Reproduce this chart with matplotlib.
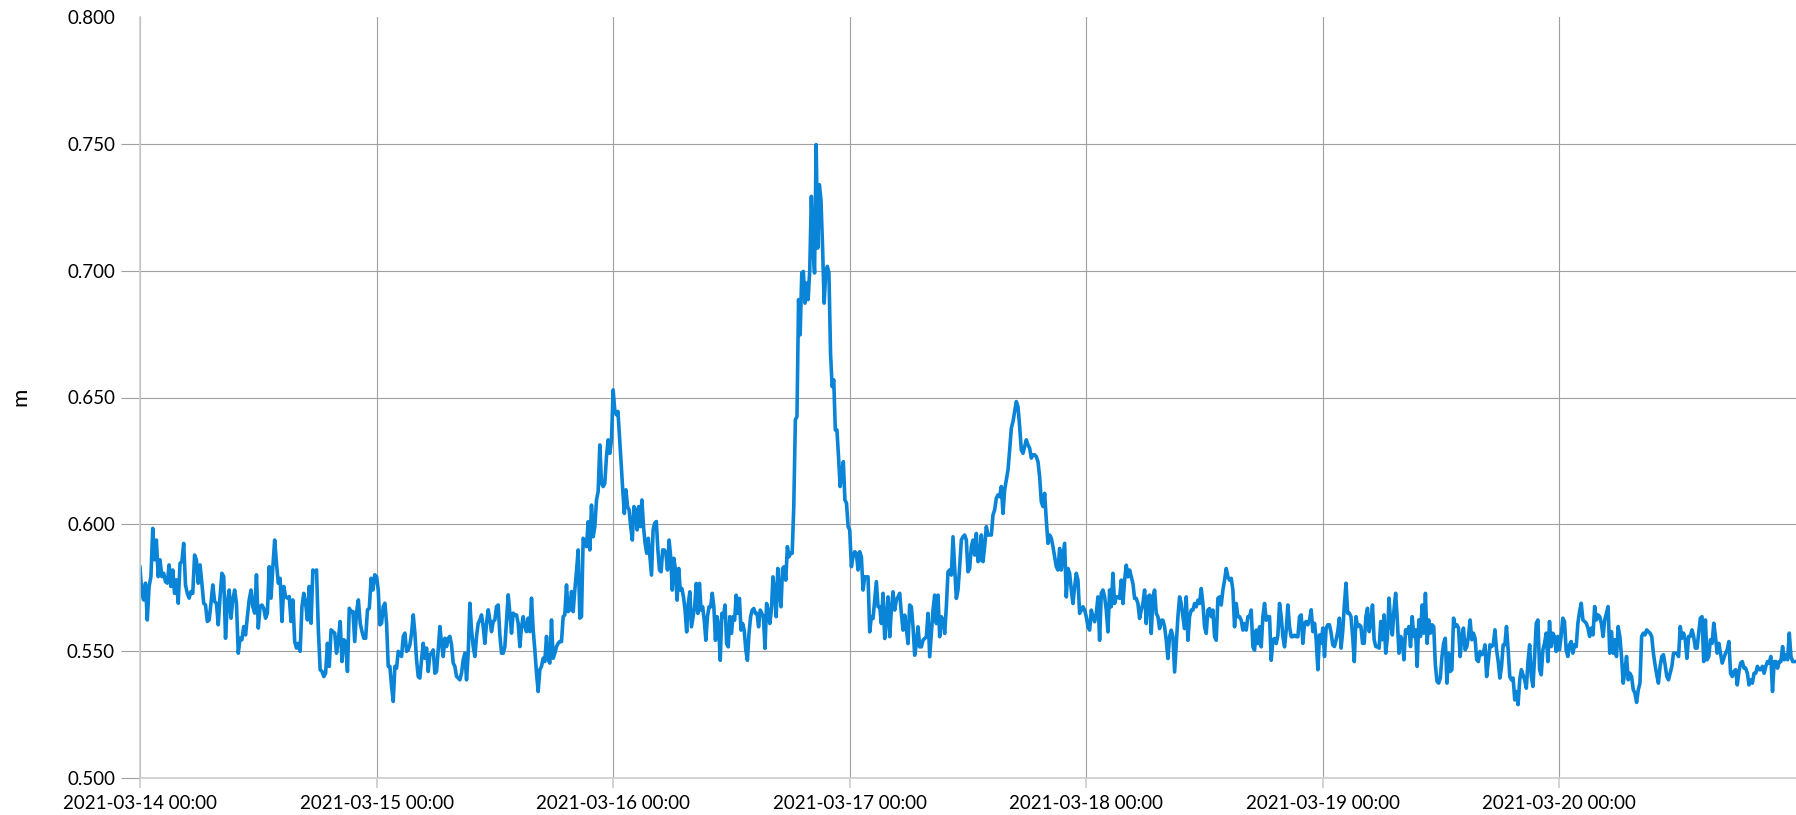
import numpy as np
import pandas as pd
import matplotlib
matplotlib.use("Agg")
import matplotlib.pyplot as plt
import matplotlib.dates as mdates

plt.rcParams['font.family'] = ['Lato', 'DejaVu Sans']

# Niveau (m), une liste par jour, pas d'environ 10 min
day_starts = pd.date_range("2021-03-14", periods=7, freq="D")

d14 = [0.5831, 0.5728, 0.5702, 0.5768, 0.5623, 0.5755, 0.5794, 0.5984, 0.5860, 0.5938, 0.5794, 0.5860,
       0.5794, 0.5807, 0.5774, 0.5768, 0.5840, 0.5755, 0.5820, 0.5728, 0.5781, 0.5689, 0.5846, 0.5853,
       0.5925, 0.5761, 0.5728, 0.5709, 0.5735, 0.5728, 0.5879, 0.5860, 0.5768, 0.5840, 0.5768, 0.5689,
       0.5682, 0.5617, 0.5623, 0.5689, 0.5761, 0.5696, 0.5689, 0.5604, 0.5715, 0.5807, 0.5794, 0.5551,
       0.5689, 0.5741, 0.5630, 0.5702, 0.5741, 0.5689, 0.5492, 0.5551, 0.5545, 0.5597, 0.5564, 0.5636,
       0.5702, 0.5741, 0.5676, 0.5650, 0.5801, 0.5591, 0.5676, 0.5682, 0.5669, 0.5630, 0.5650, 0.5833,
       0.5709, 0.5833, 0.5938, 0.5846, 0.5768, 0.5787, 0.5617, 0.5755, 0.5715, 0.5709, 0.5715, 0.5617,
       0.5702, 0.5538, 0.5512, 0.5531, 0.5499, 0.5676, 0.5728, 0.5689, 0.5623, 0.5755, 0.5610, 0.5820,
       0.5814, 0.5820, 0.5584, 0.5427, 0.5420, 0.5400, 0.5413, 0.5531, 0.5440, 0.5584, 0.5577, 0.5571,
       0.5492, 0.5545, 0.5617, 0.5459, 0.5545, 0.5538, 0.5420, 0.5669, 0.5656, 0.5656, 0.5538, 0.5656,
       0.5702, 0.5610, 0.5577, 0.5551, 0.5551, 0.5663, 0.5669, 0.5787, 0.5741, 0.5801]

d15 = [0.5794, 0.5741, 0.5604, 0.5610, 0.5676, 0.5689, 0.5610, 0.5440, 0.5440, 0.5361, 0.5302, 0.5440,
       0.5433, 0.5499, 0.5492, 0.5479, 0.5558, 0.5571, 0.5499, 0.5505, 0.5525, 0.5571, 0.5643, 0.5571,
       0.5466, 0.5400, 0.5394, 0.5466, 0.5531, 0.5472, 0.5512, 0.5420, 0.5486, 0.5492, 0.5505, 0.5413,
       0.5420, 0.5505, 0.5597, 0.5531, 0.5479, 0.5551, 0.5518, 0.5551, 0.5558, 0.5525, 0.5453, 0.5440,
       0.5400, 0.5394, 0.5387, 0.5413, 0.5466, 0.5492, 0.5387, 0.5492, 0.5689, 0.5584, 0.5518, 0.5479,
       0.5558, 0.5610, 0.5623, 0.5643, 0.5597, 0.5531, 0.5610, 0.5663, 0.5623, 0.5577, 0.5617, 0.5623,
       0.5676, 0.5682, 0.5564, 0.5492, 0.5492, 0.5518, 0.5623, 0.5722, 0.5650, 0.5571, 0.5650, 0.5643,
       0.5643, 0.5610, 0.5518, 0.5597, 0.5636, 0.5597, 0.5577, 0.5630, 0.5577, 0.5709, 0.5584, 0.5505,
       0.5413, 0.5341, 0.5427, 0.5440, 0.5472, 0.5459, 0.5558, 0.5466, 0.5453, 0.5623, 0.5472, 0.5492,
       0.5518, 0.5531, 0.5538, 0.5538, 0.5636, 0.5643, 0.5761, 0.5656, 0.5663, 0.5735, 0.5656, 0.5741,
       0.5814, 0.5899, 0.5630, 0.5636, 0.5945, 0.5932, 0.5912, 0.6010, 0.5899, 0.6076, 0.5951, 0.5991,
       0.6096, 0.6129, 0.6313, 0.6162, 0.6149, 0.6162, 0.6267, 0.6333, 0.6280, 0.6333]

d16 = [0.6530, 0.6451, 0.6432, 0.6445, 0.6346, 0.6241, 0.6136, 0.6043, 0.6136, 0.6070, 0.6057, 0.5991,
       0.5938, 0.6070, 0.6057, 0.5978, 0.6070, 0.5991, 0.6096, 0.5991, 0.5925, 0.5886, 0.5945, 0.5872,
       0.5800, 0.5978, 0.6004, 0.6011, 0.5899, 0.5820, 0.5813, 0.5899, 0.5899, 0.5886, 0.5820, 0.5938,
       0.5872, 0.5741, 0.5866, 0.5820, 0.5701, 0.5826, 0.5741, 0.5747, 0.5714, 0.5662, 0.5576, 0.5688,
       0.5734, 0.5596, 0.5636, 0.5675, 0.5767, 0.5649, 0.5767, 0.5662, 0.5675, 0.5622, 0.5543, 0.5636,
       0.5675, 0.5675, 0.5728, 0.5675, 0.5543, 0.5636, 0.5596, 0.5464, 0.5649, 0.5636, 0.5682, 0.5530,
       0.5517, 0.5636, 0.5570, 0.5636, 0.5622, 0.5721, 0.5649, 0.5708, 0.5583, 0.5609, 0.5583, 0.5504,
       0.5464, 0.5570, 0.5636, 0.5662, 0.5668, 0.5649, 0.5649, 0.5596, 0.5662, 0.5649, 0.5636, 0.5511,
       0.5688, 0.5662, 0.5609, 0.5662, 0.5793, 0.5728, 0.5636, 0.5826, 0.5741, 0.5675, 0.5826, 0.5833,
       0.5780, 0.5912, 0.5872, 0.5886, 0.5886, 0.6070, 0.6412, 0.6425, 0.6886, 0.6747, 0.6991, 0.6997,
       0.6872, 0.6951, 0.6886, 0.7004, 0.7293, 0.7096, 0.6991, 0.7497, 0.7089, 0.7339, 0.7280, 0.7096,
       0.6872, 0.6991, 0.7017, 0.6991, 0.6675, 0.6543, 0.6570, 0.6372, 0.6372, 0.6267, 0.6149, 0.6201,
       0.6247, 0.6096, 0.6083, 0.5991]

d17 = [0.5978, 0.5833, 0.5872, 0.5892, 0.5886, 0.5820, 0.5892, 0.5872, 0.5741, 0.5793, 0.5793, 0.5793,
       0.5576, 0.5636, 0.5629, 0.5701, 0.5774, 0.5675, 0.5675, 0.5609, 0.5728, 0.5550, 0.5629, 0.5714,
       0.5557, 0.5662, 0.5734, 0.5662, 0.5701, 0.5714, 0.5728, 0.5649, 0.5583, 0.5642, 0.5589, 0.5530,
       0.5682, 0.5675, 0.5596, 0.5484, 0.5530, 0.5596, 0.5517, 0.5517, 0.5543, 0.5550, 0.5557, 0.5649,
       0.5478, 0.5570, 0.5662, 0.5721, 0.5609, 0.5721, 0.5557, 0.5636, 0.5622, 0.5570, 0.5675, 0.5813,
       0.5820, 0.5800, 0.5951, 0.5833, 0.5708, 0.5741, 0.5833, 0.5938, 0.5951, 0.5958, 0.5938, 0.5813,
       0.5826, 0.5912, 0.5938, 0.5879, 0.5964, 0.5853, 0.5859, 0.5958, 0.5853, 0.5912, 0.5991, 0.5958,
       0.5958, 0.5958, 0.6037, 0.6057, 0.6103, 0.6116, 0.6109, 0.6149, 0.6043, 0.6136, 0.6175, 0.6214,
       0.6293, 0.6379, 0.6405, 0.6445, 0.6484, 0.6464, 0.6386, 0.6293, 0.6280, 0.6307, 0.6333, 0.6313,
       0.6300, 0.6261, 0.6274, 0.6274, 0.6267, 0.6247, 0.6188, 0.6089, 0.6070, 0.6122, 0.6017, 0.5925,
       0.5958, 0.5945, 0.5912, 0.5872, 0.5833, 0.5820, 0.5905, 0.5820, 0.5872, 0.5925, 0.5714, 0.5826,
       0.5807, 0.5741, 0.5688, 0.5754, 0.5807, 0.5780, 0.5649, 0.5662, 0.5675, 0.5662]

d18 = [0.5636, 0.5596, 0.5583, 0.5662, 0.5636, 0.5616, 0.5649, 0.5714, 0.5543, 0.5728, 0.5741, 0.5714,
       0.5662, 0.5576, 0.5741, 0.5675, 0.5807, 0.5688, 0.5714, 0.5714, 0.5708, 0.5780, 0.5688, 0.5780,
       0.5839, 0.5793, 0.5820, 0.5793, 0.5767, 0.5708, 0.5708, 0.5688, 0.5629, 0.5662, 0.5688, 0.5741,
       0.5609, 0.5714, 0.5721, 0.5570, 0.5714, 0.5741, 0.5649, 0.5636, 0.5589, 0.5622, 0.5622, 0.5596,
       0.5543, 0.5471, 0.5557, 0.5583, 0.5557, 0.5418, 0.5530, 0.5636, 0.5714, 0.5688, 0.5636, 0.5589,
       0.5714, 0.5543, 0.5636, 0.5662, 0.5662, 0.5688, 0.5675, 0.5701, 0.5688, 0.5747, 0.5688, 0.5596,
       0.5570, 0.5662, 0.5668, 0.5636, 0.5662, 0.5557, 0.5543, 0.5708, 0.5714, 0.5682, 0.5741, 0.5780,
       0.5826, 0.5793, 0.5780, 0.5787, 0.5741, 0.5596, 0.5688, 0.5636, 0.5636, 0.5622, 0.5583, 0.5609,
       0.5583, 0.5636, 0.5636, 0.5662, 0.5517, 0.5504, 0.5583, 0.5530, 0.5596, 0.5517, 0.5636, 0.5688,
       0.5622, 0.5636, 0.5636, 0.5464, 0.5543, 0.5550, 0.5530, 0.5563, 0.5688, 0.5636, 0.5557, 0.5517,
       0.5583, 0.5682, 0.5596, 0.5557, 0.5557, 0.5563, 0.5557, 0.5557, 0.5636, 0.5643, 0.5531, 0.5610,
       0.5617, 0.5604, 0.5623, 0.5663, 0.5577, 0.5610, 0.5545, 0.5427, 0.5564, 0.5531]

d19 = [0.5591, 0.5479, 0.5591, 0.5604, 0.5604, 0.5571, 0.5525, 0.5518, 0.5545, 0.5577, 0.5630, 0.5512,
       0.5577, 0.5682, 0.5768, 0.5650, 0.5650, 0.5636, 0.5558, 0.5459, 0.5636, 0.5597, 0.5604, 0.5597,
       0.5531, 0.5531, 0.5636, 0.5669, 0.5577, 0.5610, 0.5682, 0.5545, 0.5518, 0.5518, 0.5512, 0.5617,
       0.5545, 0.5643, 0.5492, 0.5551, 0.5709, 0.5610, 0.5564, 0.5663, 0.5728, 0.5623, 0.5492, 0.5558,
       0.5545, 0.5466, 0.5584, 0.5571, 0.5597, 0.5518, 0.5636, 0.5558, 0.5584, 0.5440, 0.5623, 0.5558,
       0.5682, 0.5571, 0.5728, 0.5531, 0.5623, 0.5571, 0.5604, 0.5597, 0.5446, 0.5381, 0.5374, 0.5394,
       0.5479, 0.5531, 0.5551, 0.5374, 0.5492, 0.5420, 0.5427, 0.5630, 0.5597, 0.5604, 0.5591, 0.5479,
       0.5558, 0.5591, 0.5505, 0.5518, 0.5558, 0.5623, 0.5545, 0.5571, 0.5551, 0.5466, 0.5459, 0.5499,
       0.5486, 0.5492, 0.5525, 0.5400, 0.5459, 0.5525, 0.5518, 0.5525, 0.5584, 0.5505, 0.5459, 0.5394,
       0.5440, 0.5525, 0.5525, 0.5597, 0.5505, 0.5400, 0.5387, 0.5394, 0.5308, 0.5341, 0.5289, 0.5387,
       0.5427, 0.5407, 0.5387, 0.5354, 0.5459, 0.5525, 0.5400, 0.5361, 0.5479, 0.5610, 0.5623, 0.5427,
       0.5407, 0.5505, 0.5531, 0.5571, 0.5459, 0.5617, 0.5518, 0.5571, 0.5558, 0.5499, 0.5558]

d20 = [0.5505, 0.5558, 0.5630, 0.5617, 0.5505, 0.5479, 0.5525, 0.5538, 0.5492, 0.5525, 0.5518, 0.5610,
       0.5656, 0.5689, 0.5623, 0.5617, 0.5610, 0.5591, 0.5558, 0.5591, 0.5564, 0.5676, 0.5623, 0.5643,
       0.5636, 0.5610, 0.5558, 0.5623, 0.5650, 0.5676, 0.5492, 0.5577, 0.5492, 0.5545, 0.5479, 0.5597,
       0.5558, 0.5479, 0.5374, 0.5420, 0.5479, 0.5387, 0.5413, 0.5400, 0.5348, 0.5335, 0.5298, 0.5348,
       0.5374, 0.5558, 0.5571, 0.5564, 0.5584, 0.5577, 0.5571, 0.5558, 0.5492, 0.5446, 0.5407, 0.5374,
       0.5440, 0.5479, 0.5486, 0.5446, 0.5400, 0.5387, 0.5413, 0.5440, 0.5492, 0.5492, 0.5492, 0.5479,
       0.5597, 0.5551, 0.5571, 0.5545, 0.5472, 0.5558, 0.5558, 0.5584, 0.5558, 0.5512, 0.5512, 0.5571,
       0.5630, 0.5636, 0.5459, 0.5623, 0.5466, 0.5479, 0.5545, 0.5531, 0.5610, 0.5558, 0.5492, 0.5531,
       0.5492, 0.5453, 0.5472, 0.5492, 0.5505, 0.5538, 0.5413, 0.5400, 0.5420, 0.5427, 0.5367, 0.5420,
       0.5453, 0.5459, 0.5433, 0.5433, 0.5413, 0.5367, 0.5387, 0.5374, 0.5413, 0.5413, 0.5440, 0.5427,
       0.5427, 0.5440, 0.5413, 0.5440, 0.5459, 0.5453, 0.5479, 0.5341, 0.5459, 0.5459, 0.5433, 0.5459,
       0.5459, 0.5518, 0.5466, 0.5486, 0.5466, 0.5571, 0.5479, 0.5459, 0.5459]

days = [d14, d15, d16, d17, d18, d19, d20]

y_ticks = [0.500, 0.550, 0.600, 0.650, 0.700, 0.750, 0.800]

# chaque liste est répartie régulièrement sur sa journée
times = []
values = []
for start, vals in zip(day_starts, days):
    n = len(vals)
    times.extend(start + pd.to_timedelta(np.arange(n) / n, unit="D"))
    values.extend(vals)
times = pd.DatetimeIndex(times)

fig = plt.figure(figsize=(17.96, 8.15), dpi=100)
ax = fig.add_axes([140 / 1796, 1 - 778 / 815, 1 - 140 / 1796, (778 - 17) / 815])

ax.plot(times, values, color="#0a84d6", linewidth=2.6, solid_joinstyle="round")

ax.set_xlim(day_starts[0], day_starts[0] + pd.Timedelta(days=7))
ax.set_ylim(0.5, 0.8)
ax.set_xticks(day_starts)
ax.xaxis.set_major_formatter(mdates.DateFormatter("%Y-%m-%d %H:%M"))
ax.set_yticks(y_ticks)
ax.yaxis.set_major_formatter(plt.FormatStrFormatter("%.3f"))

ax.grid(True, color="#a0a0a0", linewidth=0.8)
ax.set_axisbelow(True)
for s in ["top", "right"]:
    ax.spines[s].set_visible(False)
for s in ["left", "bottom"]:
    ax.spines[s].set_color("#cccccc")
    ax.spines[s].set_linewidth(1.2)

ax.tick_params(axis="y", length=14, width=0.8, color="#a0a0a0", pad=4, labelsize=13.5)
ax.tick_params(axis="x", length=7, width=1.2, color="#cccccc", pad=5, labelsize=13.5)
top = ax.yaxis.get_major_ticks()[-1]
top.tick1line.set_visible(False)
top.gridline.set_visible(False)

fig.text(20 / 1796, 1 - 397 / 815, "m", rotation=90, ha="center", va="center", fontsize=16)

fig.savefig("out.png", dpi=100)
